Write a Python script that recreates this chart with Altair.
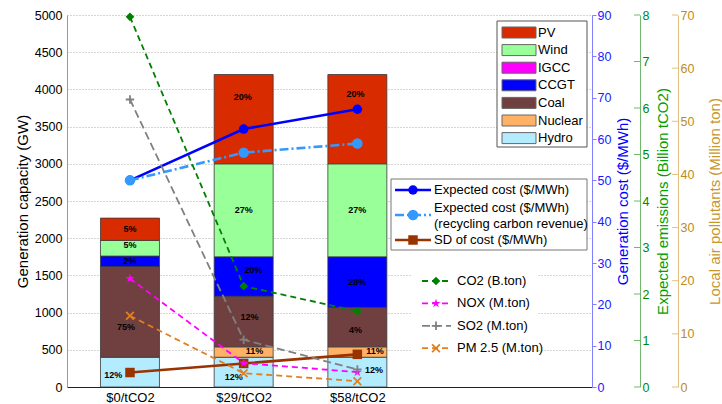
import json
import altair as alt
import pandas as pd

# ---------------- data ----------------
scenarios = ["$0/tCO2", "$29/tCO2", "$58/tCO2"]
techs = ["Hydro", "Nuclear", "Coal", "CCGT", "IGCC", "Wind", "PV"]
tech_colors = ["#B3EBFF", "#FFB266", "#704040", "#0000FF", "#FF00FF", "#99FF99", "#D92B00"]

# installed capacity by technology (GW), one value per scenario
hydro = [400, 400, 400]
nuclear = [0, 140, 140]
coal = [1220, 680, 530]
ccgt = [140, 530, 680]
igcc = [0, 0, 0]
wind = [210, 1250, 1250]
pv = [300, 1200, 1200]

# share labels printed on the bar segments
hydro_lbl = ["12%", "12%", "12%"]
nuclear_lbl = ["", "11%", "11%"]
coal_lbl = ["75%", "12%", "4%"]
ccgt_lbl = ["2%", "20%", "28%"]
igcc_lbl = ["", "", ""]
wind_lbl = ["5%", "27%", "27%"]
pv_lbl = ["5%", "20%", "20%"]

# generation cost ($/MWh)
cost_expected = [50.0, 62.4, 67.2]
cost_recycling = [50.0, 56.7, 58.9]
cost_sd = [3.5, 5.7, 7.9]

# emissions
co2 = [7.96, 2.17, 1.63]      # billion ton
nox = [20.4, 4.5, 2.8]        # million ton
so2 = [54.1, 8.9, 3.3]        # million ton
pm25 = [13.4, 2.6, 1.1]       # million ton

# ---------------- layout ----------------
W, H = 525, 372
FONT = "Liberation Sans"
xi = [1, 2, 3]
X_DOMAIN = [0.49, 5.02]
GW_MAX = 5000
one = pd.DataFrame({"k": [0]})

# pixel nudges of the share labels (layout only): (scenario index, tech) -> (dx, dy)
LABEL_NUDGE = {
    (0, "Hydro"): (-17, 3), (0, "Coal"): (-4, 15), (0, "Wind"): (0, -3),
    (1, "PV"): (-1, -22), (1, "CCGT"): (10, -7), (1, "Coal"): (6, -5),
    (1, "Nuclear"): (11, -1), (1, "Hydro"): (-10, 5),
    (2, "PV"): (-2, -25), (2, "Coal"): (-2, 3), (2, "Nuclear"): (18, -1), (2, "Hydro"): (17, -2),
}
px_per_x = W / (X_DOMAIN[1] - X_DOMAIN[0])
px_per_gw = H / GW_MAX

tech_values = [hydro, nuclear, coal, ccgt, igcc, wind, pv]
tech_labels = [hydro_lbl, nuclear_lbl, coal_lbl, ccgt_lbl, igcc_lbl, wind_lbl, pv_lbl]

rows = []
for s in range(len(scenarios)):
    base = 0
    for t, vals, lbls in zip(techs, tech_values, tech_labels):
        v = vals[s]
        dx, dy = LABEL_NUDGE.get((s, t), (0, 0))
        rows.append(dict(xi=s + 1, tech=t, y0=base, y1=base + v,
                         lx=s + 1 + dx / px_per_x, ly=base + v / 2 - dy / px_per_gw,
                         label=lbls[s], v=v))
        base += v
bars_df = pd.DataFrame(rows)
seg_df = bars_df[bars_df["v"] > 0]
lab_df = bars_df[bars_df["label"] != ""]

x_scale = alt.Scale(domain=X_DOMAIN, nice=False, zero=False)
x_axis = alt.Axis(values=xi, labelExpr=json.dumps([""] + scenarios) + "[datum.value]",
                  title=None, ticks=False, grid=False, domainColor="#222222",
                  labelFontSize=13, labelPadding=4, labelColor="black")
x_enc = alt.X("xi:Q", scale=x_scale, axis=x_axis)

left_axis = alt.Axis(
    orient="left", values=list(range(0, 5001, 500)), format="d", title="Generation capacity (GW)",
    titleFontSize=15, titleFontWeight="normal", titleColor="black",
    titleBaseline="middle", titleX=-45, titleY=H / 2,
    labelFontSize=12.5, labelColor="black", ticks=False, labelPadding=5,
    domainColor="#999999", grid=True, gridColor="#AAAAAA", gridDash=[1, 2],
)
gw_scale = alt.Scale(domain=[0, GW_MAX], nice=False, zero=True)

color_enc = alt.Color("tech:N", scale=alt.Scale(domain=techs, range=tech_colors), legend=None)

bars = alt.Chart(seg_df).mark_bar(size=59, stroke="#3A3A3A", strokeWidth=0.8).encode(
    x=x_enc, y=alt.Y("y0:Q", scale=gw_scale, axis=left_axis), y2="y1:Q", color=color_enc
)
bar_text = alt.Chart(lab_df).mark_text(fontSize=9, fontWeight="bold", color="black", font=FONT).encode(
    x=alt.X("lx:Q", scale=x_scale, axis=x_axis), y=alt.Y("ly:Q", scale=gw_scale, axis=left_axis), text="label:N"
)
bar_layer = alt.layer(bars, bar_text)

# ---- cost lines (right blue axis)
cost_axis = alt.Axis(
    orient="right", values=list(range(0, 91, 10)), title="Generation cost ($/MWh)",
    titleAngle=270, titleBaseline="middle", titleX=30, titleY=H / 2,
    titleFontSize=15, titleFontWeight="normal", titleColor="#0000FF",
    labelColor="#1A1AFF", labelFontSize=12.5, domainColor="#8080FF", tickColor="#8080FF",
    tickSize=4, labelPadding=1, grid=False,
)
cost_scale = alt.Scale(domain=[0, 90], nice=False)


def series_layers(values, scale, axis, color, width, dash, shape, size, filled):
    df = pd.DataFrame({"xi": xi, "value": values})
    lkw = dict(color=color, strokeWidth=width)
    if dash:
        lkw["strokeDash"] = dash
    line = alt.Chart(df).mark_line(**lkw).encode(
        x=x_enc, y=alt.Y("value:Q", scale=scale, axis=axis))
    pkw = dict(shape=shape, size=size, color=color, opacity=1, filled=filled)
    if not filled:
        pkw["strokeWidth"] = 1.8
    pts = alt.Chart(df).mark_point(**pkw).encode(
        x=x_enc, y=alt.Y("value:Q", scale=scale, axis=axis))
    return [line, pts]


STAR = ("M0,-1L0.2245,-0.309L0.951,-0.309L0.363,0.118L0.588,0.809L0,0.382"
        "L-0.588,0.809L-0.363,0.118L-0.951,-0.309L-0.2245,-0.309Z")
PLUS = "M-1,0L1,0M0,-1L0,1"
XMARK = "M-1,-1L1,1M-1,1L1,-1"

cost_styles = [
    (cost_expected, "#0000FF", 2.6, None, "circle", 90, True),
    (cost_recycling, "#3399FF", 2.6, [9, 3, 2, 3], "circle", 110, True),
    (cost_sd, "#993300", 2.6, None, "square", 90, True),
]
cost_parts = []
for vals, c, w, d, sh, sz, f in cost_styles:
    cost_parts += series_layers(vals, cost_scale, cost_axis, c, w, d, sh, sz, f)
cost_layer = alt.layer(*cost_parts)

# ---- CO2 (green axis)
co2_axis = alt.Axis(
    orient="right", offset=48, values=list(range(0, 9)), title="Expected emissions (Billion tCO2)",
    titleAngle=270, titleBaseline="middle", titleX=22, titleY=H / 2,
    titleFontSize=15, titleFontWeight="normal", titleColor="#00A000",
    labelColor="#008800", labelFontSize=12.5, domainColor="#70B870",
    ticks=False, labelPadding=2, grid=False,
)
co2_scale = alt.Scale(domain=[0, 8], nice=False)
co2_ticks = alt.Chart(pd.DataFrame({"v": list(range(0, 9))})).mark_rule(color="#70B870", strokeWidth=1).encode(
    x=alt.value(W + 48 - 6), x2=alt.value(W + 48), y=alt.Y("v:Q", scale=co2_scale, axis=co2_axis))
co2_layer = alt.layer(co2_ticks, *series_layers(co2, co2_scale, co2_axis, "#008000", 1.8, [6, 4], "diamond", 75, True))

# ---- local pollutants (gold axis)
pol_axis = alt.Axis(
    orient="right", offset=86, values=list(range(0, 71, 10)), title="Local air pollutants (Million ton)",
    titleAngle=270, titleBaseline="middle", titleX=36, titleY=H / 2,
    titleFontSize=15, titleFontWeight="normal", titleColor="#C8962D",
    labelColor="#C08A20", labelFontSize=12.5, domainColor="#E0C080",
    ticks=False, labelPadding=2, grid=False,
)
pol_scale = alt.Scale(domain=[0, 70], nice=False)
pol_ticks = alt.Chart(pd.DataFrame({"v": list(range(0, 71, 10))})).mark_rule(color="#E0C080", strokeWidth=1).encode(
    x=alt.value(W + 86 - 6), x2=alt.value(W + 86), y=alt.Y("v:Q", scale=pol_scale, axis=pol_axis))
pol_parts = [pol_ticks]
pol_parts += series_layers(nox, pol_scale, pol_axis, "#FF00FF", 1.8, [6, 4], STAR, 90, True)
pol_parts += series_layers(so2, pol_scale, pol_axis, "#808080", 1.8, [8, 4], PLUS, 70, False)
pol_parts += series_layers(pm25, pol_scale, pol_axis, "#E08020", 1.8, [6, 4], XMARK, 60, False)
pol_layer = alt.layer(*pol_parts)

# ---------------- legends ----------------
def box(x1, x2, y1, y2, stroke=None):
    kw = dict(fill="white")
    if stroke:
        kw.update(stroke=stroke, strokeWidth=1)
    return alt.Chart(one).mark_rect(**kw).encode(
        x=alt.value(x1), x2=alt.value(x2), y=alt.value(y1), y2=alt.value(y2))


def leg_line(x1, x2, y, color, width, dash=None):
    kw = dict(color=color, strokeWidth=width)
    if dash:
        kw["strokeDash"] = dash
    return alt.Chart(one).mark_rule(**kw).encode(x=alt.value(x1), x2=alt.value(x2), y=alt.value(y))


def leg_mark(x, y, shape, color, size, filled):
    kw = dict(shape=shape, size=size, color=color, opacity=1, filled=filled)
    if not filled:
        kw["strokeWidth"] = 1.8
    return alt.Chart(one).mark_point(**kw).encode(x=alt.value(x), y=alt.value(y))


def leg_text(x, y, txt):
    return alt.Chart(one).mark_text(text=txt, align="left", baseline="middle", fontSize=13,
                                    font=FONT, color="black").encode(x=alt.value(x), y=alt.value(y))


# legend 1: technologies (top to bottom PV ... Hydro)
leg1_df = pd.DataFrame({"tech": techs[::-1], "i": list(range(len(techs)))})
L1_Y0, L1_DY = 17.5, 17.6
sw = alt.Chart(leg1_df).transform_calculate(
    top=f"{L1_Y0} + datum.i*{L1_DY} - 5.5", bot=f"{L1_Y0} + datum.i*{L1_DY} + 5.5"
).mark_rect(stroke="#666666", strokeWidth=1).encode(
    x=alt.value(435), x2=alt.value(469),
    y=alt.Y("top:Q", scale=None, axis=None), y2="bot:Q", color=color_enc)
sw_txt = alt.Chart(leg1_df).transform_calculate(cy=f"{L1_Y0} + datum.i*{L1_DY}").mark_text(
    align="left", baseline="middle", fontSize=13, font=FONT, color="black").encode(
    x=alt.value(471), y=alt.Y("cy:Q", scale=None, axis=None), text="tech:N")
legend1 = [box(430, 520, 6, 132, "#555555"), sw, sw_txt]

# legend 2: cost
legend2 = [box(324, 520, 164, 235, "#777777")]
r1, r2, r3 = 175, 200, 225
legend2 += [leg_line(328, 364, r1, "#0000FF", 2.6), leg_mark(346, r1, "circle", "#0000FF", 90, True),
            leg_text(367, r1, "Expected cost ($/MWh)")]
legend2 += [leg_line(328, 364, r2, "#3399FF", 2.6, [9, 3, 2, 3]), leg_mark(346, r2, "circle", "#3399FF", 110, True),
            leg_text(367, r2 - 7.5, "Expected cost ($/MWh)"), leg_text(367, r2 + 8.5, "(recycling carbon revenue)")]
legend2 += [leg_line(328, 364, r3, "#993300", 2.6), leg_mark(346, r3, "square", "#993300", 90, True),
            leg_text(367, r3, "SD of cost ($/MWh)")]

# legend 3: emissions
legend3 = [box(344, 470, 252, 346)]
em_items = [
    ("CO2 (B.ton)", "#008000", [6, 4], "diamond", 75, True),
    ("NOX (M.ton)", "#FF00FF", [6, 4], STAR, 90, True),
    ("SO2 (M.ton)", "#808080", [8, 4], PLUS, 70, False),
    ("PM 2.5 (M.ton)", "#E08020", [6, 4], XMARK, 60, False),
]
for k, (txt, c, d, sh, sz, f) in enumerate(em_items):
    yy = 266 + k * 22.4
    legend3 += [leg_line(355, 384, yy, c, 1.8, d), leg_mark(369, yy, sh, c, sz, f), leg_text(390, yy, txt)]

chart = alt.layer(
    bar_layer, cost_layer, co2_layer, pol_layer, *legend1, *legend2, *legend3
).resolve_scale(y="independent").properties(
    width=W, height=H,
    autosize=alt.AutoSizeParams(type="none"),
    padding={"left": 67, "top": 15, "right": 130, "bottom": 17},
).configure(font=FONT).configure_view(stroke=None).configure_axis(labelFont=FONT, titleFont=FONT)

chart.save("out.html", embed_options={"renderer": "svg", "actions": False})
